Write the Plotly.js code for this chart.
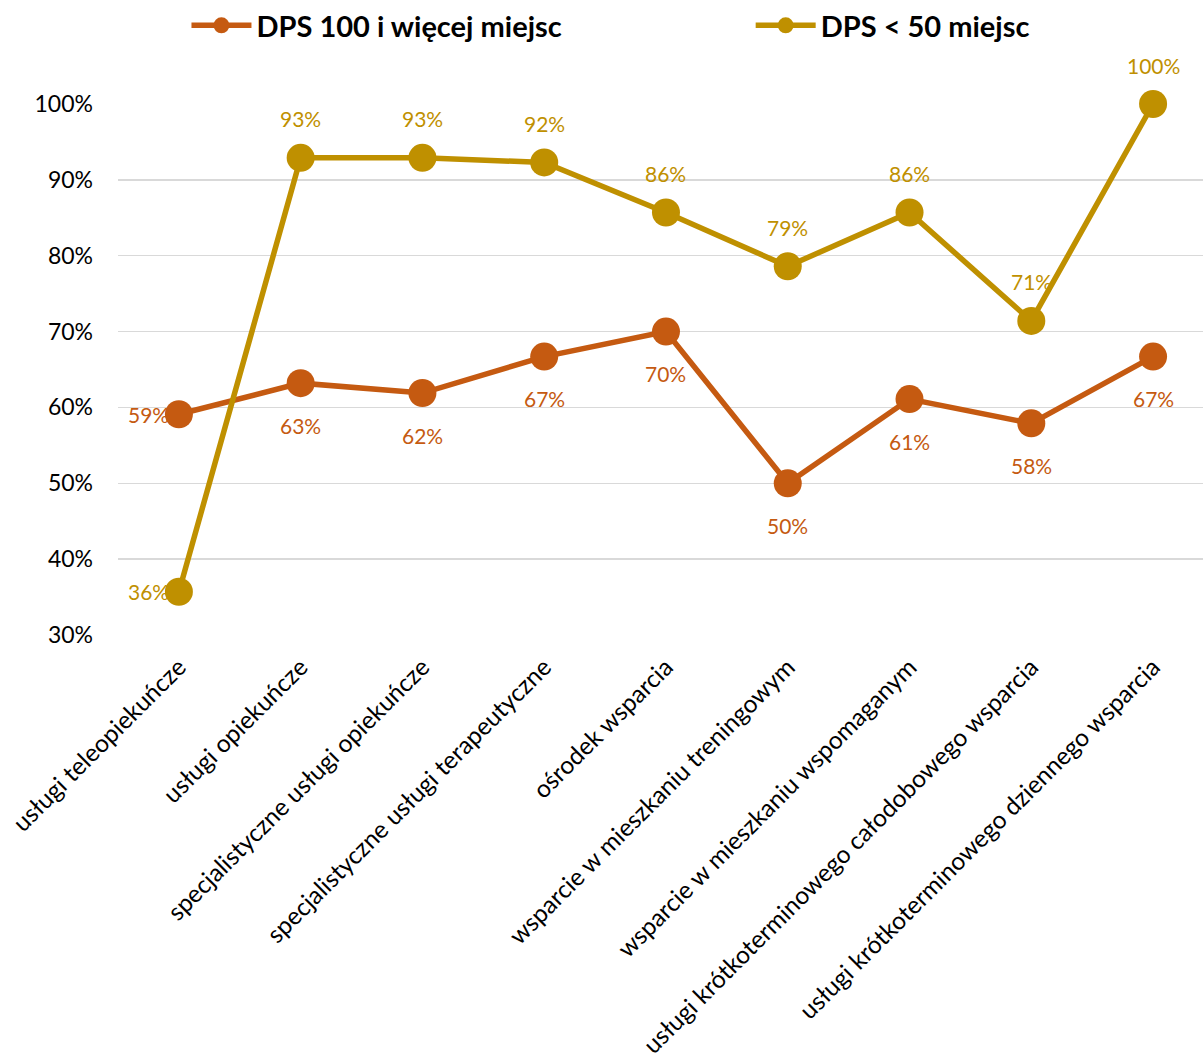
<!DOCTYPE html>
<html><head><meta charset="utf-8">
<script src="https://cdn.plot.ly/plotly-3.0.1.min.js"></script>
<style>body{margin:0;padding:0;background:#fff}#chart{width:1203px;height:1062px}</style>
</head><body><div id="chart"></div>
<script>
const categories = [
  "usługi teleopiekuńcze",
  "usługi opiekuńcze",
  "specjalistyczne usługi opiekuńcze",
  "specjalistyczne usługi terapeutyczne",
  "ośrodek wsparcia",
  "wsparcie w mieszkaniu treningowym",
  "wsparcie w mieszkaniu wspomaganym",
  "usługi krótkoterminowego całodobowego wsparcia",
  "usługi krótkoterminowego dziennego wsparcia"
];
const seriesNames = ["DPS 100 i więcej miejsc", "DPS < 50 miejsc"];
const dps100 = [59.1, 63.2, 61.9, 66.7, 70.0, 50.0, 61.1, 57.9, 66.7];
const dps50 = [35.7, 92.9, 92.9, 92.3, 85.7, 78.6, 85.7, 71.4, 100.0];
const yTicks = [30, 40, 50, 60, 70, 80, 90, 100];

const c1 = "#C55A11", c2 = "#BF9000";
const FONT = "Lato, 'Open Sans', sans-serif";

function tr(vals, name, color, leg) {
  return {
    x: categories, y: vals, name: name, type: "scatter", mode: "lines+markers",
    line: {color: color, width: 5.5},
    marker: {color: color, size: 28},
    cliponaxis: false, legend: leg
  };
}
const data = [tr(dps100, seriesNames[0], c1, "legend"), tr(dps50, seriesNames[1], c2, "legend2")];

const annotations = [];
dps100.forEach((v, i) => {
  const left = i === 0;
  annotations.push({
    x: categories[i], y: v, xref: "x", yref: "y", text: Math.round(v) + "%",
    showarrow: false, font: {family: FONT, size: 21, color: c1},
    xanchor: left ? "right" : "center", yanchor: "middle",
    xshift: left ? -8 : 0, yshift: left ? 0 : -42
  });
});
dps50.forEach((v, i) => {
  const left = i === 0;
  annotations.push({
    x: categories[i], y: v, xref: "x", yref: "y", text: Math.round(v) + "%",
    showarrow: false, font: {family: FONT, size: 21, color: c2},
    xanchor: left ? "right" : "center", yanchor: "middle",
    xshift: left ? -8 : 0, yshift: left ? 0 : 39
  });
});

const legFont = {family: FONT, size: 29, color: "#000", weight: "bold"};
const layout = {
  width: 1203, height: 1062,
  margin: {l: 118, r: 0, t: 104, b: 427},
  paper_bgcolor: "#fff", plot_bgcolor: "#fff",
  font: {family: FONT, color: "#000"},
  showlegend: true,
  legend: {
    orientation: "h", xref: "container", yref: "container",
    x: 0.155, y: 1.0, xanchor: "left", yanchor: "top",
    font: legFont, itemwidth: 60
  },
  legend2: {
    orientation: "h", xref: "container", yref: "container",
    x: 0.624, y: 1.0, xanchor: "left", yanchor: "top",
    font: legFont, itemwidth: 60
  },
  xaxis: {
    type: "category", range: [-0.5, 8.41],
    showgrid: false, zeroline: false, showline: false, ticks: "",
    tickangle: -45, tickfont: {family: FONT, size: 24.5, color: "#000"},
    ticklabelstandoff: 12, automargin: false
  },
  yaxis: {
    range: [30, 100], tickvals: yTicks, ticktext: yTicks.map(t => t + "%"),
    showgrid: true, gridcolor: "#D9D9D9", gridwidth: 1.5,
    zeroline: false, showline: false, ticks: "",
    tickfont: {family: FONT, size: 23, color: "#000"},
    ticklabelstandoff: 24, automargin: false
  },
  annotations: annotations
};
Plotly.newPlot("chart", data, layout, {displayModeBar: false, staticPlot: true});
</script></body></html>
